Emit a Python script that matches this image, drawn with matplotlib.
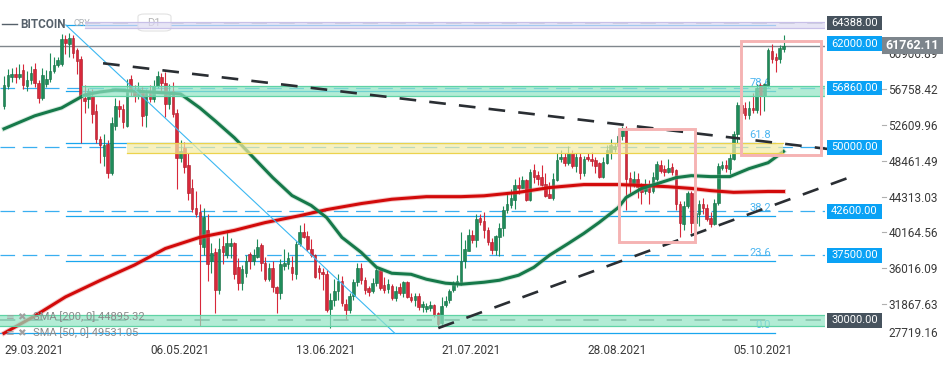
import numpy as np
import matplotlib.pyplot as plt
import matplotlib.transforms as mtransforms
from matplotlib.patches import Rectangle, FancyBboxPatch

plt.rcParams['font.family'] = ['Roboto', 'DejaVu Sans']
plt.rcParams['lines.scale_dashes'] = False

# BITCOIN D1 candles, thousands of USD, day 0 = 29.03.2021
opens = [54.8, 57.1, 58.1, 58.5, 58.2, 58.9, 57.1, 57.8, 59.1, 57.4,
         55.7, 57.3, 57.9, 58.8, 59.5, 59.6, 62.5, 62.0, 62.6, 61.3,
         60.2, 55.7, 55.6, 55.9, 54.2, 51.0, 49.0, 50.4, 47.0, 52.5,
         54.8, 54.4, 52.5, 57.9, 56.5, 55.9, 56.6, 53.8, 56.3, 55.6,
         57.1, 58.1, 57.4, 55.0, 56.5, 54.0, 48.8, 49.9, 48.0, 45.3,
         43.0, 42.5, 38.5, 40.4, 36.8, 37.9, 33.5, 38.6, 37.5, 38.6,
         38.9, 36.2, 34.3, 35.5, 37.7, 36.8, 37.3, 38.7, 36.6, 34.8,
         36.0, 33.9, 33.1, 36.3, 36.5, 36.2, 35.4, 38.8, 40.2, 39.8,
         38.3, 37.5, 36.1, 35.6, 35.4, 31.3, 32.3, 33.4, 34.6, 31.9,
         31.2, 32.8, 34.4, 36.1, 34.7, 33.7, 33.4, 34.3, 35.8, 34.1,
         33.6, 34.0, 32.6, 33.8, 33.1, 34.4, 32.7, 32.3, 32.8, 31.5,
         31.3, 31.4, 31.8, 30.8, 29.7, 31.8, 32.3, 33.5, 34.2, 34.3,
         36.9, 38.0, 39.9, 39.3, 41.8, 41.5, 40.5, 39.0, 38.1, 39.6,
         40.7, 42.8, 43.3, 43.9, 45.6, 45.3, 46.2, 43.9, 47.4, 46.8,
         46.6, 45.8, 44.6, 44.2, 46.2, 48.6, 48.9, 48.2, 49.4, 47.8,
         48.9, 47.0, 48.9, 48.7, 48.5, 48.2, 46.6, 48.2, 49.4, 49.8,
         50.2, 51.3, 52.0, 46.5, 45.8, 46.4, 45.5, 44.9, 45.8, 44.9,
         46.4, 48.0, 47.5, 47.2, 47.7, 47.4, 43.5, 41.1, 43.2, 44.7,
         41.3, 42.3, 43.5, 43.0, 41.8, 41.1, 43.6, 47.6, 48.0, 47.5,
         48.7, 51.6, 54.9, 54.5, 53.7, 54.6, 54.3, 57.2, 55.9, 57.1,
         61.2, 60.4, 60.2, 61.4]
highs = [58.3, 59.1, 59.2, 59.3, 59.7, 59.6, 58.8, 59.4, 59.8, 57.8,
         59.2, 58.9, 60.9, 60.5, 60.5, 63.1, 63.0, 63.2, 63.0, 61.5,
         60.6, 57.2, 56.9, 56.8, 55.0, 51.3, 51.5, 50.8, 53.5, 55.7,
         55.5, 55.0, 57.9, 58.4, 57.2, 57.6, 57.0, 56.8, 57.2, 57.8,
         58.8, 58.6, 58.7, 57.3, 57.6, 54.4, 50.9, 50.6, 49.3, 46.4,
         45.0, 43.5, 43.0, 42.3, 38.9, 38.4, 39.5, 39.8, 40.5, 39.5,
         39.0, 37.2, 36.4, 37.5, 37.9, 38.2, 39.4, 38.9, 37.3, 36.6,
         36.8, 34.0, 37.1, 38.2, 37.9, 37.4, 39.2, 41.0, 41.2, 40.3,
         39.4, 37.7, 36.4, 36.0, 35.8, 33.2, 34.8, 35.3, 35.1, 32.5,
         33.2, 34.8, 36.6, 36.6, 35.0, 34.0, 34.9, 36.2, 35.9, 35.0,
         34.8, 34.2, 34.0, 34.3, 34.6, 34.6, 33.2, 33.2, 33.1, 32.2,
         32.0, 32.2, 31.9, 31.0, 32.7, 32.8, 33.6, 34.6, 35.2, 40.2,
         39.3, 40.6, 40.4, 42.3, 42.3, 42.5, 40.8, 39.5, 39.9, 41.2,
         43.2, 44.6, 45.2, 46.3, 46.6, 46.7, 46.3, 47.5, 48.1, 47.3,
         48.0, 47.0, 46.0, 47.0, 49.3, 49.7, 49.4, 50.2, 49.7, 49.3,
         49.3, 49.0, 49.3, 49.5, 48.9, 48.3, 48.9, 50.3, 51.0, 50.5,
         51.5, 52.5, 52.5, 47.2, 47.3, 47.0, 45.9, 46.3, 46.2, 47.2,
         48.4, 48.5, 48.0, 48.6, 48.2, 47.5, 43.8, 43.8, 44.9, 45.0,
         42.8, 43.9, 44.2, 43.4, 42.5, 44.0, 48.2, 48.4, 48.5, 49.2,
         51.9, 55.3, 55.1, 55.3, 55.4, 56.3, 57.3, 57.5, 57.5, 61.5,
         62.0, 60.9, 61.8, 63.0]
lows = [54.4, 56.8, 57.6, 57.5, 57.9, 56.8, 56.5, 57.3, 57.0, 55.1,
        55.5, 57.0, 57.6, 58.6, 59.3, 59.4, 60.8, 60.5, 60.3, 58.5,
        50.5, 54.0, 54.6, 52.8, 50.5, 48.2, 47.8, 46.5, 46.8, 52.0,
        53.5, 52.3, 52.4, 56.0, 55.3, 55.6, 52.5, 52.4, 55.2, 55.3,
        56.9, 56.3, 53.5, 54.4, 53.5, 45.2, 48.3, 47.0, 43.9, 42.5,
        42.0, 29.3, 37.5, 34.5, 35.5, 30.8, 33.0, 36.5, 37.2, 37.2,
        34.8, 33.5, 33.5, 35.0, 35.9, 36.4, 37.2, 35.7, 34.5, 34.6,
        33.3, 30.9, 32.5, 35.8, 35.9, 34.7, 34.8, 38.6, 39.5, 38.0,
        37.3, 34.9, 34.8, 33.5, 31.0, 29.1, 31.7, 32.4, 31.6, 30.2,
        30.9, 32.4, 34.0, 34.2, 33.0, 32.8, 33.2, 34.0, 33.5, 33.2,
        33.2, 32.3, 32.2, 32.9, 32.7, 32.6, 32.1, 31.6, 31.2, 31.0,
        31.0, 31.1, 30.4, 29.2, 29.4, 31.5, 32.0, 33.3, 33.8, 34.1,
        36.1, 38.0, 38.9, 38.5, 41.0, 39.5, 38.7, 37.7, 37.6, 37.4,
        39.8, 42.4, 43.0, 42.9, 44.6, 45.3, 43.8, 43.8, 45.9, 45.6,
        45.5, 44.3, 44.1, 43.9, 46.1, 48.3, 47.8, 48.0, 47.6, 47.2,
        46.4, 46.7, 48.4, 47.8, 47.0, 46.5, 46.5, 48.1, 48.6, 49.5,
        49.6, 50.8, 42.7, 44.5, 45.4, 44.2, 43.5, 44.6, 43.4, 44.7,
        46.1, 47.0, 46.7, 47.0, 46.8, 42.7, 39.6, 40.5, 43.0, 40.1,
        41.0, 40.9, 42.3, 41.5, 40.8, 41.0, 43.3, 47.4, 47.1, 46.9,
        48.5, 50.5, 53.2, 53.3, 53.3, 54.0, 54.0, 53.7, 54.2, 57.0,
        59.8, 58.7, 59.8, 61.0]
closes = [57.2, 58.4, 58.5, 58.2, 58.5, 57.2, 57.8, 58.6, 57.4, 55.7,
          58.4, 57.9, 58.8, 59.5, 60.1, 62.5, 62.1, 62.6, 60.9, 60.0,
          55.9, 55.4, 56.5, 53.9, 51.0, 50.3, 50.3, 47.0, 52.8, 54.8,
          54.4, 52.9, 56.5, 56.5, 55.9, 56.8, 53.6, 56.3, 55.6, 57.1,
          58.3, 57.5, 55.0, 56.2, 53.9, 48.8, 49.6, 47.7, 44.7, 42.9,
          42.3, 38.8, 42.0, 36.5, 37.8, 33.5, 38.2, 37.9, 38.9, 38.9,
          35.4, 34.3, 35.9, 36.9, 36.9, 37.6, 38.5, 36.6, 34.8, 36.0,
          33.8, 33.1, 36.5, 36.6, 37.2, 35.5, 38.8, 40.2, 39.6, 38.3,
          37.6, 35.0, 35.6, 35.3, 31.2, 32.4, 33.4, 34.6, 32.0, 31.2,
          32.8, 34.4, 36.1, 34.7, 33.5, 33.3, 34.3, 35.8, 33.7, 33.5,
          34.2, 32.6, 33.4, 33.1, 34.4, 32.7, 32.3, 32.8, 31.5, 31.9,
          31.7, 31.8, 30.6, 29.6, 31.7, 32.2, 33.4, 34.2, 34.5, 36.9,
          38.2, 39.9, 39.3, 41.7, 41.4, 40.5, 39.0, 38.1, 39.7, 40.7,
          42.8, 43.4, 44.2, 45.6, 45.3, 46.2, 43.9, 47.2, 46.6, 46.4,
          45.6, 44.4, 44.2, 46.4, 48.5, 48.9, 48.2, 49.4, 47.8, 48.9,
          47.0, 48.7, 48.6, 48.4, 47.8, 46.6, 48.3, 49.7, 50.3, 50.2,
          51.3, 52.0, 46.4, 45.8, 46.4, 45.4, 44.8, 45.8, 44.8, 46.6,
          48.1, 47.3, 47.2, 47.6, 47.2, 43.5, 41.2, 43.2, 44.7, 41.2,
          42.4, 43.5, 43.0, 41.7, 41.1, 43.6, 47.9, 48.0, 47.6, 48.8,
          51.6, 54.9, 54.0, 53.8, 54.6, 54.3, 56.9, 55.9, 57.3, 61.3,
          60.2, 60.1, 61.5, 61.76211]

# moving averages (day, value)
sma200_days = [0, 8, 16, 25, 34, 42, 51, 60, 68, 77, 84, 93, 101, 110, 119,
               125, 134, 142, 151, 160, 166, 173, 179, 184, 190, 199, 203]
sma200_vals = [28500, 30500, 32700, 34600, 36400, 38300, 39600, 40400, 41300,
               42100, 42800, 43500, 44000, 44300, 44300, 44400, 44800, 45350,
               45700, 45700, 45600, 45450, 45250, 45000, 44800, 44900, 44895]
sma50_days = [0, 8, 15, 21, 25, 29, 38, 46, 51, 55, 60, 65, 70, 75, 80, 84, 88,
              93, 97, 101, 106, 110, 115, 119, 125, 129, 134, 138, 142, 147,
              151, 155, 160, 162, 166, 171, 175, 179, 184, 189, 194, 199, 203]
sma50_vals = [52150, 53650, 54570, 56070, 56410, 56640, 56410, 56180, 54570,
              53070, 51110, 48810, 46500, 44430, 43280, 41890, 39590, 37860,
              36130, 35440, 35320, 34750, 34290, 34170, 34400, 34630, 35210,
              36130, 37510, 38900, 40050, 41320, 43050, 44200, 45240, 45930,
              46500, 46730, 46620, 46620, 47540, 48230, 49530]

date_ticks = [0, 38, 76, 114, 152, 190]
date_labels = ['29.03.2021', '06.05.2021', '13.06.2021', '21.07.2021',
               '28.08.2021', '05.10.2021']
price_ticks = [27719.16, 31867.63, 36016.09, 40164.56, 44313.03, 48461.49,
               52609.96, 56758.42, 60906.89]

level_vals = [64388, 62000, 56860, 50000, 42600, 37500, 30000]
level_dark = [True, False, False, False, False, False, True]
blue_dashed = [56860, 50000, 42600, 37500]
last_price = 61762.11

# zones: (start day, end day, low, high, fill, edge)
zones = [(21.1, 214, 63780, 64540, '#dedaf1', '#c8c0e8'),
         (20.2, 214, 55990, 57140, '#92e4c4', '#5fd3a5'),
         (32.1, 202.9, 49330, 50490, '#f5eca5', '#ecd34c'),
         (-1.1, 214, 29370, 30560, '#92e4c4', '#5fd3a5')]

fib_low, fib_high = 28490, 64163
fib_ratios = [0.0, 23.6, 38.2, 61.8, 78.6, 100.0]
fib_start = [-1.1, 16.1, 16.1, 16.1, 16.1, 16.1]
fib_end = 200.8

trend_down = ([25.8, 215.1], [59730, 49790])
trend_up = ([113.1, 219.8], [29100, 46470])
boxes = [(160.2, 180.0, 39010, 52150), (192.0, 212.8, 49070, 62330)]

GREEN, GREEN_E = '#1f8c5a', '#146b42'
RED, RED_E = '#d8283a', '#a81826'
BLUE = '#0aa2f5'
DARK = '#47535e'

fig = plt.figure(figsize=(9.5, 3.65), dpi=100)
ax = fig.add_axes([0, 25 / 365, 825 / 950, 340 / 365])
ax.set_xlim(-1.04, 213.8)
ax.set_ylim(27720, 67050)
for s in ax.spines.values():
    s.set_visible(False)

days = np.arange(len(opens))
o = np.array(opens) * 1000
h = np.array(highs) * 1000
l = np.array(lows) * 1000
c = np.array(closes) * 1000
up = c >= o
fc = np.where(up, GREEN, RED)
ec = np.where(up, GREEN_E, RED_E)

# horizontal levels
for v in blue_dashed:
    ax.axhline(v, color='#3aaff0', lw=0.9, dashes=(10.5, 5.5), zorder=1)
ax.axhline(30000, color='#607870', lw=1.1, dashes=(11, 9), zorder=1)
ax.plot([21.1, 214], [64388, 64388], color='#9aa0a8', lw=1.1, dashes=(11, 9), zorder=1)
ax.axhline(last_price, color='#80878d', lw=1.0, zorder=1)

# fibonacci retracement
for r, x0 in zip(fib_ratios, fib_start):
    v = fib_low + r / 100 * (fib_high - fib_low)
    ax.plot([x0, fib_end], [v, v], color='#1aa6ee', lw=0.9, zorder=1.2)
    if r < 100:
        ax.text(199.7, v + 350, f'{r:.1f}', color='#4db6f0', fontsize=8,
                ha='right', va='bottom', zorder=1.2)
ax.plot([16.1, 101.8], [fib_high, fib_low], color='#3cb8f2', lw=0.8, zorder=4)

# candles
ax.vlines(days, l, h, colors=fc, lw=0.8, zorder=2)
ax.bar(days, np.maximum(np.abs(c - o), 80), bottom=np.minimum(o, c), width=0.68,
       color=fc, edgecolor=ec, linewidth=0.4, zorder=2.1)

# moving averages
ax.plot(sma200_days, sma200_vals, color='#e06060', lw=3.6, alpha=0.35, zorder=3)
ax.plot(sma200_days, sma200_vals, color='#d20a0a', lw=2.2, zorder=3.1)
ax.plot(sma50_days, sma50_vals, color='#8cc4a4', lw=3.6, alpha=0.35, zorder=3)
ax.plot(sma50_days, sma50_vals, color='#16794a', lw=2.2, zorder=3.1)

# zones on top of the candles
for x0, x1, lo, hi, f, e in zones:
    ax.add_patch(Rectangle((x0, lo), x1 - x0, hi - lo, facecolor=f, alpha=0.7,
                           edgecolor='none', zorder=4))
    ax.plot([x0, x1], [lo, lo], color=e, lw=0.9, zorder=4.1)
    ax.plot([x0, x1], [hi, hi], color=e, lw=0.9, zorder=4.1)

# trend lines and boxes
for tx, ty in (trend_down, trend_up):
    ax.plot(tx, ty, color='#2a2e33', lw=1.9, dashes=(12, 9.5), zorder=5, clip_on=False)
for x0, x1, lo, hi in boxes:
    ax.add_patch(Rectangle((x0, lo), x1 - x0, hi - lo, fill=False,
                           edgecolor='#f5b3b3', lw=2.1, zorder=5))

# axes labels
ax.set_xticks(date_ticks)
ax.set_xticklabels(date_labels, ha='left')
ax.tick_params(axis='x', length=0, pad=3, labelsize=8.5, labelcolor='#3a3a3a')
ax.yaxis.tick_right()
ax.set_yticks(price_ticks)
ax.set_yticklabels([f'{v:.2f}' for v in price_ticks])
ax.tick_params(axis='y', length=0, pad=45.5, labelsize=8.5, labelcolor='#3a3a3a')
ax.get_yticklabels()[0].set_va('bottom')

tr = mtransforms.blended_transform_factory(ax.transAxes, ax.transData)
for v in price_ticks[1:]:
    ax.plot([882 / 825, 886 / 825], [v, v], color='#b0b0b0', lw=0.8,
            transform=tr, clip_on=False)

px = 115.6
for v, dark in zip(level_vals, level_dark):
    col = DARK if dark else BLUE
    ax.add_patch(Rectangle((827 / 825, v - 7.4 * px), 55 / 825, 14.8 * px,
                           transform=tr, facecolor=col, edgecolor='none',
                           clip_on=False, zorder=6))
    ax.text(854.5 / 825, v, f'{v:.2f}', transform=tr, color='white', fontsize=8,
            ha='center', va='center', zorder=7)
ax.add_patch(Rectangle((882 / 825, last_price - 8.5 * px), 61 / 825, 17 * px,
                       transform=tr, facecolor='#7d858c', edgecolor='none',
                       clip_on=False, zorder=6))
ax.text(912.5 / 825, last_price, f'{last_price:.2f}', transform=tr, color='white',
        fontsize=9, fontweight='bold', ha='center', va='center', zorder=7)

# header and legend
ax.plot([2 / 825, 17 / 825], [1 - 24 / 340] * 2, color='#55606a', lw=1.0,
        transform=ax.transAxes, clip_on=False, zorder=3)
ax.text(20 / 825, 1 - 24 / 340, 'BITCOIN', transform=ax.transAxes, fontsize=8.5,
        fontweight='bold', color='#56616b', va='center', zorder=3)
ax.text(74 / 825, 1 - 24 / 340, 'CRY', transform=ax.transAxes, fontsize=6.5,
        color='#aab0b5', va='center', zorder=3)
ax.add_patch(FancyBboxPatch((138 / 825, 1 - 31 / 340), 33 / 825, 17 / 340,
                            boxstyle='round,pad=0,rounding_size=0.008',
                            transform=ax.transAxes, facecolor='white',
                            edgecolor='#e2e2e2', lw=0.8, zorder=3))
ax.text(154 / 825, 1 - 23 / 340, 'D1', transform=ax.transAxes, fontsize=8,
        color='#b5b5b5', ha='center', va='center', zorder=3)

ax.text(6 / 825, 1 - 316.5 / 340, '≡ ✖', transform=ax.transAxes, fontsize=7.5,
        color='#a0a0a0', va='center', zorder=6, family=['DejaVu Sans'])
ax.text(33 / 825, 1 - 316.5 / 340, 'SMA [200, 0] 44895.32', transform=ax.transAxes,
        fontsize=8, color='#8a8a8a', va='center', zorder=6)
ax.text(6 / 825, 1 - 332.5 / 340, '≡ ✖', transform=ax.transAxes, fontsize=7.5,
        color='#a0a0a0', va='center', zorder=6, family=['DejaVu Sans'])
ax.text(33 / 825, 1 - 332.5 / 340, 'SMA [50, 0] 49531.05', transform=ax.transAxes,
        fontsize=8, color='#8a8a8a', va='center', zorder=6)

fig.savefig('out.png', dpi=100)
